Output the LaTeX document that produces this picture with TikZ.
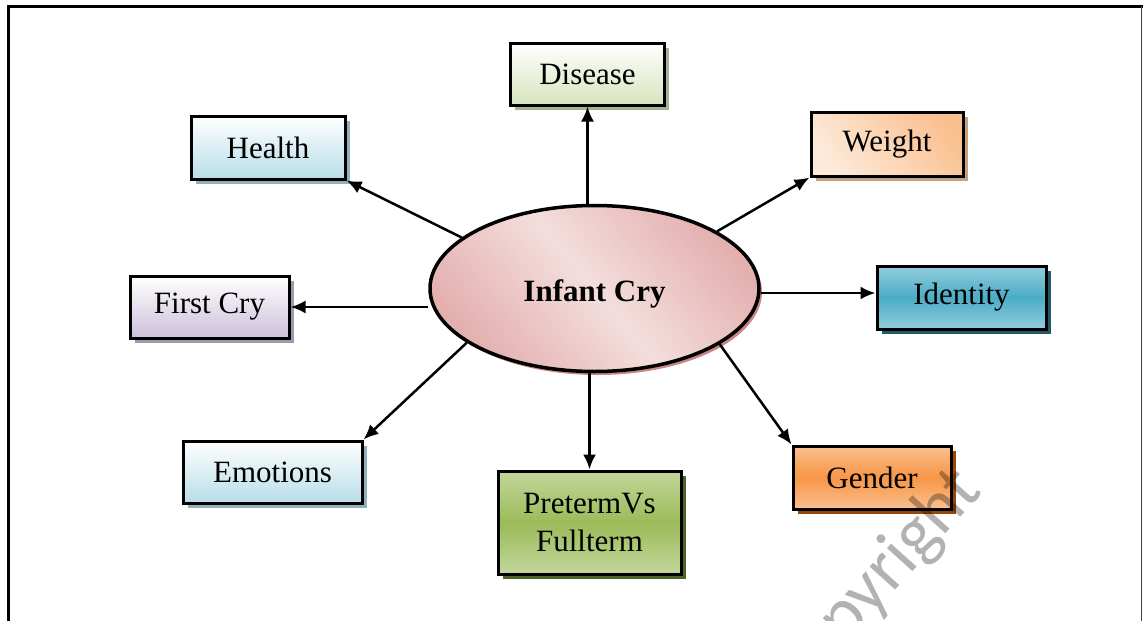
\documentclass[tikz,border=0pt]{standalone}
\usepackage{fontspec}
\setmainfont{Liberation Serif}
\newfontfamily\wmfont{Carlito}
\usetikzlibrary{shapes.geometric,arrows.meta,shadows,calc}
\definecolor{blueL}{HTML}{B7DDE8}
\definecolor{blueS}{HTML}{8FB1BC}
\definecolor{greenL}{HTML}{D7E4BD}
\definecolor{greenS}{HTML}{A7B192}
\definecolor{peachD}{HTML}{FAC090}
\definecolor{peachL}{HTML}{FDEADA}
\definecolor{peachS}{HTML}{C9A080}
\definecolor{lilac}{HTML}{CCC0DA}
\definecolor{lilacS}{HTML}{A398B2}
\definecolor{tealL}{HTML}{92CDDC}
\definecolor{tealM}{HTML}{4BACC6}
\definecolor{tealS}{HTML}{215968}
\definecolor{oliveL}{HTML}{C2D69B}
\definecolor{oliveM}{HTML}{9BBB59}
\definecolor{oliveS}{HTML}{4F6228}
\definecolor{orangeL}{HTML}{FAC090}
\definecolor{orangeM}{HTML}{F79646}
\definecolor{orangeS}{HTML}{974806}
\definecolor{pinkD}{HTML}{E3B0AF}
\definecolor{pinkL}{HTML}{F3DEDD}
\definecolor{pinkS}{HTML}{C98684}
\begin{document}
\begin{tikzpicture}[x=1pt,y=-1pt,
  box/.style={draw=black, line width=3pt, rectangle, inner sep=0pt, align=center,
    font=\fontsize{31}{38}\selectfont},
  sh/.style={drop shadow={shadow xshift=4.5pt, shadow yshift=-4.5pt, fill=#1, opacity=1}},
  arr/.style={line width=2.5pt, -{Latex[length=15pt,width=13pt]}}
]
\useasboundingbox (0,0) rectangle (1143,621);
\fill[white] (0,0) rectangle (1143,621);
% frame
\draw[line width=3.5pt] (7,6.5) -- (1143,6.5);
\draw[line width=3.5pt] (8.5,5) -- (8.5,621);
\draw[line width=1.4pt, black!75] (1141.6,6) -- (1141.6,621);

% centre
\node[ellipse, draw=black, line width=3.5pt, minimum width=329pt, minimum height=166pt, inner sep=0pt,
  top color=pinkD, bottom color=pinkD, middle color=pinkL, shading angle=-50,
  drop shadow={shadow xshift=3pt, shadow yshift=-3.5pt, fill=pinkS, opacity=1},
  text height=33pt, text depth=8pt,
  font=\fontsize{31}{38}\selectfont\bfseries] (ell) at (594.5,288.5) {Infant Cry};

% boxes
\node[box, minimum width=154pt, minimum height=62pt, top color=white, bottom color=greenL, sh=greenS]
  (disease) at (587.5,74) {Disease};
\node[box, minimum width=154pt, minimum height=63pt, top color=white, bottom color=blueL, sh=blueS]
  (health) at (268,147.5) {Health};
\node[box, minimum width=152pt, minimum height=64pt, top color=peachD, bottom color=peachL, shading angle=-50, sh=peachS]
  (weight) at (887,144) {Weight};
\node[box, minimum width=159pt, minimum height=62pt, top color=white, bottom color=lilac, sh=lilacS]
  (firstcry) at (209.5,307) {First Cry};
\node[box, minimum width=169pt, minimum height=63pt, top color=tealL, bottom color=tealL, middle color=tealM, sh=tealS]
  (identity) at (961.5,297.5) {Identity};
\node[box, minimum width=179pt, minimum height=62pt, top color=white, bottom color=blueL, sh=blueS]
  (emotions) at (272.5,472) {Emotions};
\node[box, minimum width=183pt, minimum height=103pt, top color=oliveL, bottom color=oliveL, middle color=oliveM, sh=oliveS]
  (preterm) at (589.5,522.5) {PretermVs\\Fullterm};
\node[box, minimum width=158pt, minimum height=63pt, top color=orangeL, bottom color=orangeL, middle color=orangeM, sh=orangeS]
  (gender) at (872,477.5) {Gender};

% connectors
\coordinate (idS) at ($(ell.east)!0.5!(ell.east |- identity)$);
\draw[arr] (ell.north -| disease) -- (disease);
\draw[arr] (ell.159) -- (health.south east);
\draw[arr] (ell.25) -- (weight.south west);
\draw[arr] (ell.west |- firstcry) -- (firstcry);
\draw[arr] (idS) -- (idS -| identity.west);
\draw[arr] (ell.203) -- (emotions.north east);
\draw[arr] (ell.south -| preterm) -- (preterm);
\draw[arr] (ell.336) -- (gender.north west);

% watermark
\node[rotate=48, anchor=base east, text=black, text opacity=0.3, inner sep=0pt,
  font=\fontsize{72}{72}\wmfont] (wm) at (984,492) {Copyright};
\end{tikzpicture}
\end{document}
